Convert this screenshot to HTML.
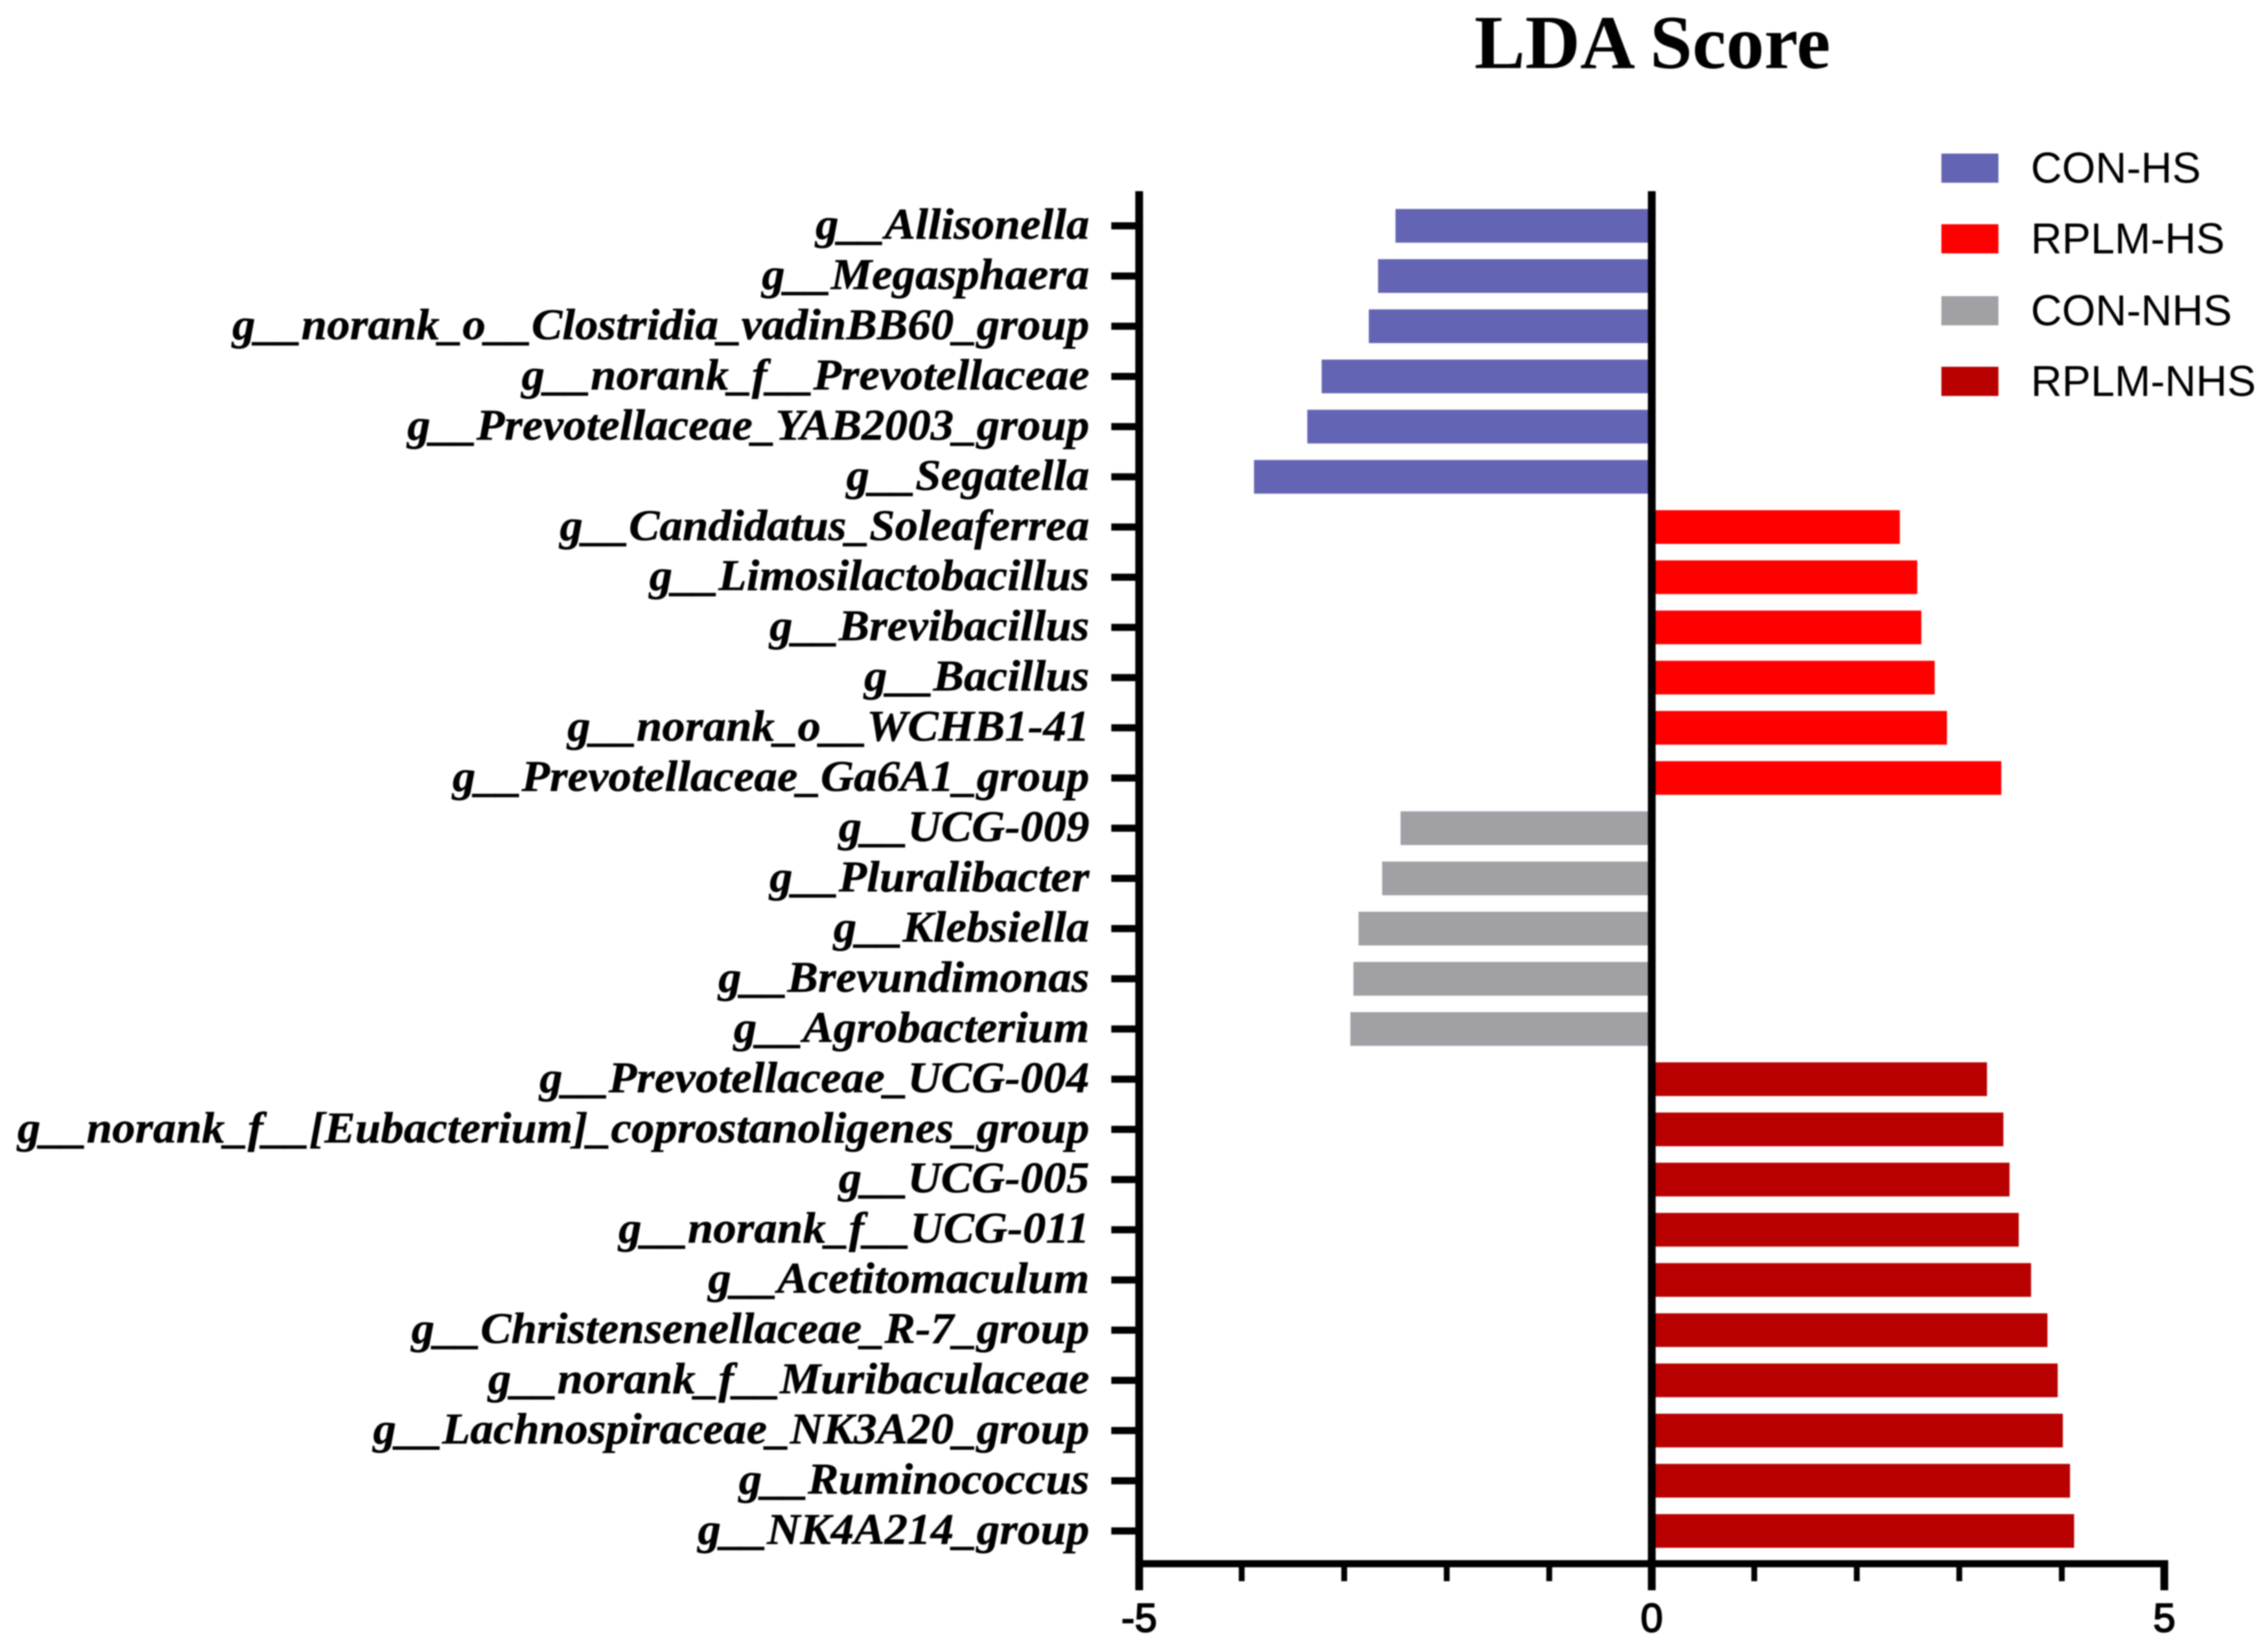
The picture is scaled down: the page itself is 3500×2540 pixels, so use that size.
<!DOCTYPE html>
<html lang="en">
<head>
<meta charset="utf-8">
<title>LDA Score</title>
<style>
html,body{margin:0;padding:0;background:#fff;width:3500px;height:2540px;overflow:hidden}
svg{display:block;filter:blur(1px)}
.cat{font-family:"Liberation Serif",serif;font-weight:700;font-style:italic;font-size:68px;fill:#000;stroke:#000;stroke-width:0.6px;text-anchor:end}
.tick{font-family:"Liberation Sans",sans-serif;font-weight:400;font-size:62px;fill:#000;stroke:#000;stroke-width:2px;text-anchor:middle}
.leg{font-family:"Liberation Sans",sans-serif;font-size:66.5px;fill:#000}
.title{font-family:"Liberation Serif",serif;font-weight:700;font-size:117.5px;fill:#000;text-anchor:middle}
</style>
</head>
<body>
<svg id="chart" xmlns="http://www.w3.org/2000/svg" width="3500" height="2540" viewBox="0 0 3500 2540">
  <rect x="0" y="0" width="3500" height="2540" fill="#ffffff"/>
  <text class="title" x="2550" y="105">LDA Score</text>
  <g>
    <g>
      <rect x="2996" y="237" width="88" height="45" fill="#6464b4"/>
      <text class="leg" x="3134" y="282">CON-HS</text>
    </g>
    <g>
      <rect x="2996" y="346" width="88" height="45" fill="#ff0000"/>
      <text class="leg" x="3134" y="391">RPLM-HS</text>
    </g>
    <g>
      <rect x="2996" y="457" width="88" height="45" fill="#a0a0a5"/>
      <text class="leg" x="3134" y="502">CON-NHS</text>
    </g>
    <g>
      <rect x="2996" y="566" width="88" height="45" fill="#b90000"/>
      <text class="leg" x="3134" y="611">RPLM-NHS</text>
    </g>
  </g>
</svg>
<script>
const categories = [
  "g__Allisonella","g__Megasphaera","g__norank_o__Clostridia_vadinBB60_group","g__norank_f__Prevotellaceae",
  "g__Prevotellaceae_YAB2003_group","g__Segatella","g__Candidatus_Soleaferrea","g__Limosilactobacillus",
  "g__Brevibacillus","g__Bacillus","g__norank_o__WCHB1-41","g__Prevotellaceae_Ga6A1_group",
  "g__UCG-009","g__Pluralibacter","g__Klebsiella","g__Brevundimonas","g__Agrobacterium",
  "g__Prevotellaceae_UCG-004","g__norank_f__[Eubacterium]_coprostanoligenes_group","g__UCG-005",
  "g__norank_f__UCG-011","g__Acetitomaculum","g__Christensenellaceae_R-7_group","g__norank_f__Muribaculaceae",
  "g__Lachnospiraceae_NK3A20_group","g__Ruminococcus","g__NK4A214_group"
];
const ldaValues = [
  -2.50,-2.67,-2.76,-3.22,-3.36,-3.88,
  2.42,2.59,2.63,2.76,2.88,3.41,
  -2.45,-2.63,-2.86,-2.91,-2.94,
  3.27,3.43,3.49,3.58,3.70,3.86,3.96,4.01,4.08,4.12
];
const groups = [
  "CON-HS","CON-HS","CON-HS","CON-HS","CON-HS","CON-HS",
  "RPLM-HS","RPLM-HS","RPLM-HS","RPLM-HS","RPLM-HS","RPLM-HS",
  "CON-NHS","CON-NHS","CON-NHS","CON-NHS","CON-NHS",
  "RPLM-NHS","RPLM-NHS","RPLM-NHS","RPLM-NHS","RPLM-NHS","RPLM-NHS","RPLM-NHS","RPLM-NHS","RPLM-NHS","RPLM-NHS"
];
const majorTicks = [-5,0,5];
const minorTicks = [-4,-3,-2,-1,1,2,3,4];

const groupColor = {"CON-HS":"#6464b4","RPLM-HS":"#ff0000","CON-NHS":"#a0a0a5","RPLM-NHS":"#b90000"};
const svg = document.getElementById('chart');
const NS = 'http://www.w3.org/2000/svg';
const xScale = v => 2549 + v * 158.2;
const yScale = i => 348.5 + i * 77.46;
const BAR_H = 52;
const AXIS_Y = 2413;

function make(tag, attrs, parent) {
  const el = document.createElementNS(NS, tag);
  for (const k in attrs) el.setAttribute(k, attrs[k]);
  (parent || svg).appendChild(el);
  return el;
}

categories.forEach((name, i) => {
  const v = ldaValues[i];
  const x0 = xScale(Math.min(0, v));
  const x1 = xScale(Math.max(0, v));
  const bar = make('rect', {x: x0, y: yScale(i) - BAR_H / 2, width: x1 - x0, height: BAR_H, fill: groupColor[groups[i]]});
  
  

  const tick = make('rect', {x: 1715, y: yScale(i) - 5.5, width: 43, height: 11, fill: '#000'});
  
  

  const label = make('text', {transform: 'translate(1681,' + (yScale(i) + 20) + ') scale(1.045,1)', 'class': 'cat'});
  
  
  label.textContent = name;
});

const yAxis = make('rect', {x: xScale(-5) - 6, y: 295, width: 12, height: 2159, fill: '#000'});



const zeroLine = make('rect', {x: xScale(0) - 6, y: 295, width: 12, height: 2159, fill: '#000'});



const xAxis = make('rect', {x: xScale(-5) - 6, y: AXIS_Y - 5.5, width: xScale(5) - xScale(-5) + 12, height: 11, fill: '#000'});



minorTicks.forEach(v => {
  const t = make('rect', {x: xScale(v) - 4.5, y: AXIS_Y, width: 9, height: 27, fill: '#000'});
  
  
});

majorTicks.forEach(v => {
  const t = make('rect', {x: xScale(v) - 6, y: AXIS_Y, width: 12, height: 41, fill: '#000'});
  
  
  const label = make('text', {x: xScale(v), y: 2518, 'class': 'tick'});
  
  
  label.textContent = String(v);
});
</script>
</body>
</html>
